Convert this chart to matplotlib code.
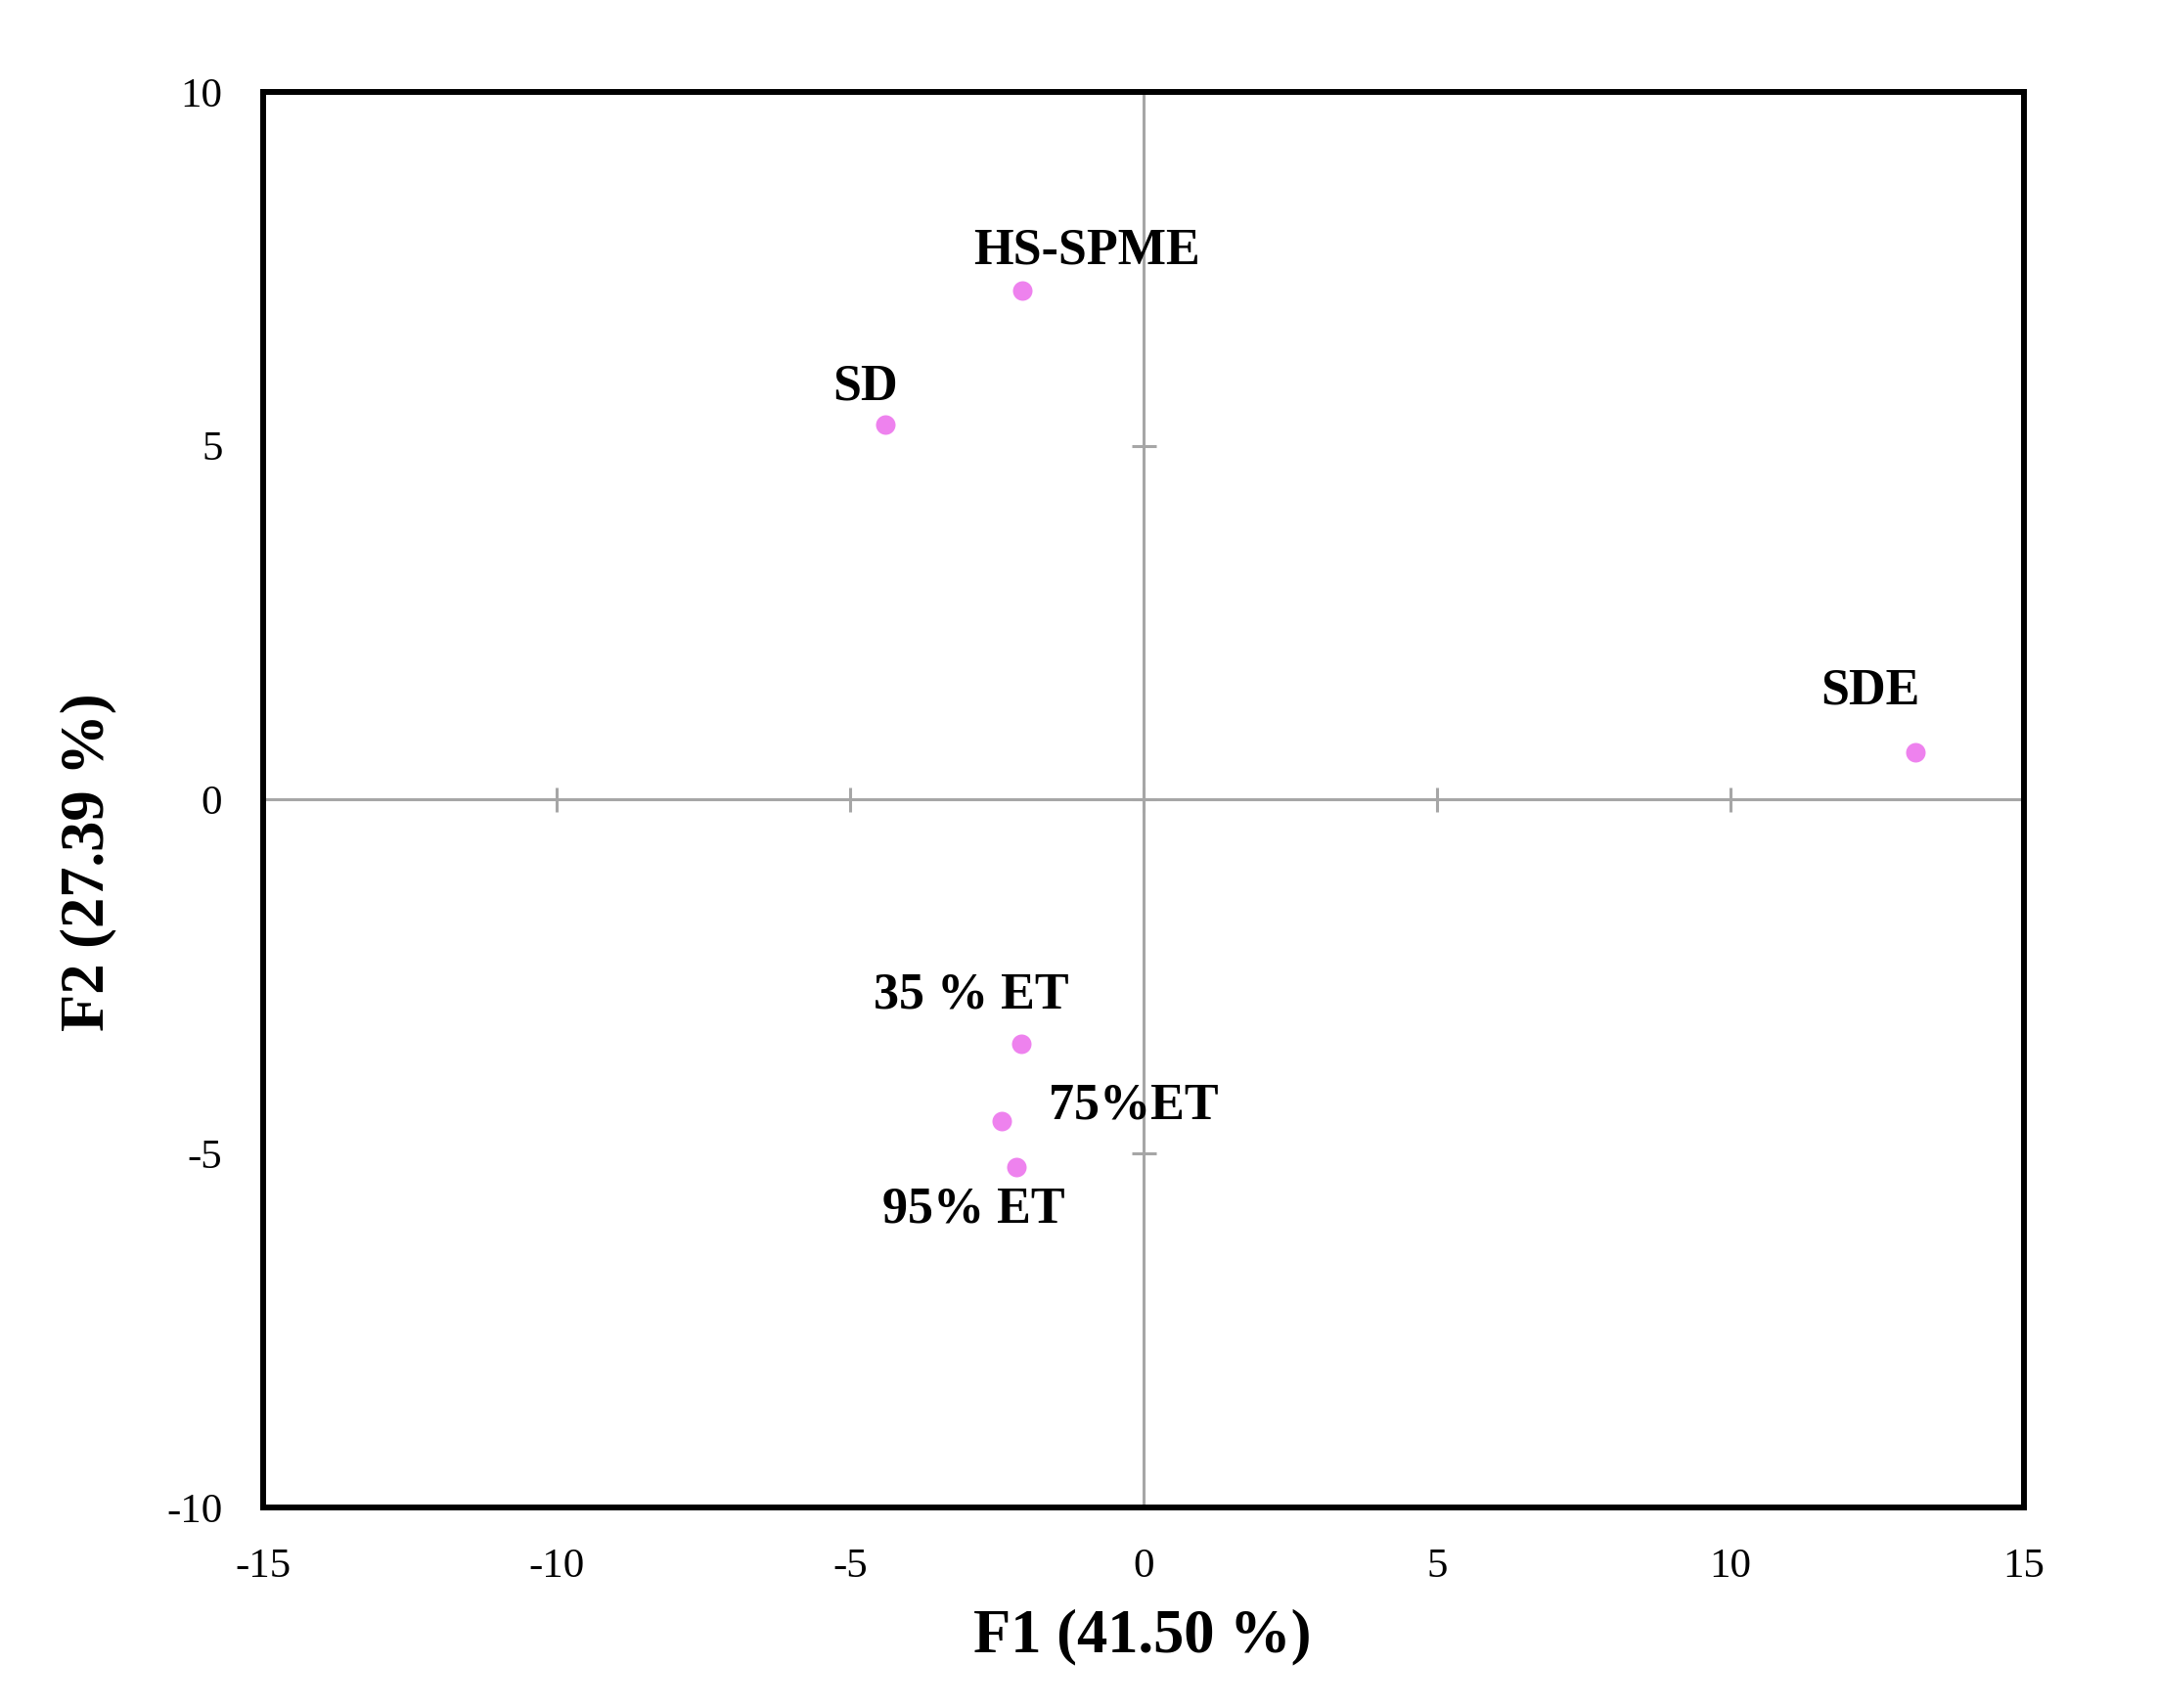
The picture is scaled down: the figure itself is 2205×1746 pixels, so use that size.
import matplotlib.pyplot as plt

# PCA scores
names = ['HS-SPME', 'SD', 'SDE', '35 % ET', '75%ET', '95% ET']
f1 = [-2.07, -4.40, 13.15, -2.08, -2.41, -2.17]
f2 = [7.19, 5.30, 0.67, -3.45, -4.54, -5.19]
# label offsets (points) from each point
offsets = [(48, 29), (-15, 28), (-33, 45), (-37, 36), (97, 11), (-31, -31)]

xticks = [-15, -10, -5, 0, 5, 10, 15]
yticks = [-10, -5, 0, 5, 10]

plt.rcParams['font.family'] = ['Liberation Serif', 'DejaVu Serif']
plt.rcParams['axes.unicode_minus'] = False

fig = plt.figure(figsize=(22.05, 17.46), dpi=100)
ax = fig.add_axes([0.122, 0.1174, 0.8163, 0.8288])

gray = '#a6a6a6'
ax.axhline(0, color=gray, lw=2.2, zorder=1)
ax.axvline(0, color=gray, lw=2.2, zorder=1)
# little cross ticks on the zero lines
ax.plot(xticks, [0] * len(xticks), ls='none', marker='|', ms=18, mew=2.2, color=gray, zorder=1, clip_on=False)
ax.plot([0] * len(yticks), yticks, ls='none', marker='_', ms=18, mew=2.2, color=gray, zorder=1, clip_on=False)

ax.plot(f1, f2, ls='none', marker='o', ms=14.4, color='#ee82ee', mec='none', zorder=3)

for n, x, y, off in zip(names, f1, f2, offsets):
    ax.annotate(n, (x, y), xytext=off, textcoords='offset points',
                ha='center', va='center', fontsize=37.5, fontweight='bold')

ax.set_xlim(-15, 15)
ax.set_ylim(-10, 10)
ax.set_xticks(xticks)
ax.set_yticks(yticks)
ax.tick_params(length=0, labelsize=31)
ax.tick_params(axis='x', pad=30)
ax.tick_params(axis='y', pad=30)
for s in ax.spines.values():
    s.set_linewidth(4.3)
    s.set_zorder(4)

ax.set_xlabel('F1 (41.50 %)', fontsize=45, fontweight='bold', va='center')
ax.set_ylabel('F2 (27.39 %)', fontsize=45, fontweight='bold', va='center')
ax.xaxis.set_label_coords(0.4994, -0.0912)
ax.yaxis.set_label_coords(-0.0994, 0.456)

fig.savefig('out.png', dpi=100)
